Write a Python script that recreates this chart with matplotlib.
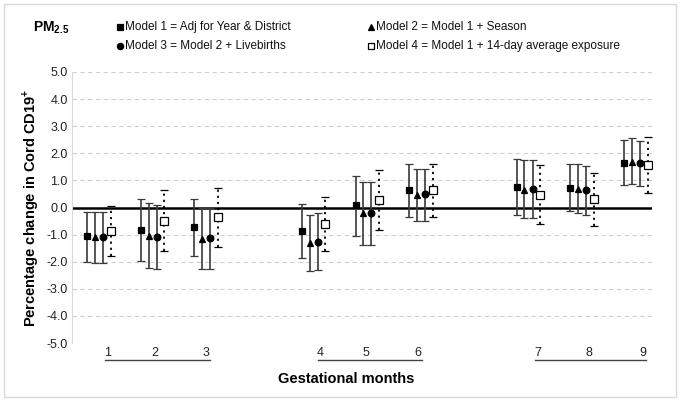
import matplotlib
matplotlib.use("Agg")
import matplotlib.pyplot as plt
from matplotlib.lines import Line2D
from matplotlib.patches import Rectangle
import matplotlib.transforms as mtransforms

plt.rcParams['font.family'] = ['Liberation Sans', 'DejaVu Sans']
plt.rcParams['mathtext.fontset'] = 'custom'
plt.rcParams['mathtext.rm'] = 'Liberation Sans'
plt.rcParams['mathtext.bf'] = 'Liberation Sans:bold'

# ---------------- data ----------------
months = ["1", "2", "3", "4", "5", "6", "7", "8", "9"]
month_slots = [1, 2, 3, 5, 6, 7, 9, 10, 11]

m1_est = [-1.05, -0.82, -0.73, -0.88, 0.10, 0.64, 0.76, 0.72, 1.66]
m1_lo = [-2.00, -1.99, -1.80, -1.87, -1.05, -0.34, -0.28, -0.14, 0.83]
m1_hi = [-0.15, 0.33, 0.33, 0.12, 1.17, 1.59, 1.80, 1.61, 2.50]

m2_est = [-1.10, -1.05, -1.15, -1.32, -0.22, 0.45, 0.64, 0.67, 1.68]
m2_lo = [-2.04, -2.22, -2.26, -2.34, -1.40, -0.49, -0.40, -0.19, 0.88]
m2_hi = [-0.15, 0.15, -0.03, -0.29, 0.95, 1.43, 1.74, 1.59, 2.56]

m3_est = [-1.10, -1.08, -1.14, -1.26, -0.22, 0.50, 0.70, 0.64, 1.63]
m3_lo = [-2.04, -2.27, -2.26, -2.32, -1.40, -0.49, -0.37, -0.26, 0.80]
m3_hi = [-0.18, 0.11, -0.02, -0.20, 0.95, 1.43, 1.77, 1.52, 2.47]

m4_est = [-0.86, -0.49, -0.34, -0.61, 0.27, 0.64, 0.47, 0.32, 1.56]
m4_lo = [-1.80, -1.59, -1.47, -1.62, -0.83, -0.34, -0.62, -0.67, 0.54]
m4_hi = [0.06, 0.64, 0.73, 0.39, 1.37, 1.59, 1.55, 1.27, 2.59]

legend_labels = ["Model 1 = Adj for Year & District",
                 "Model 2 = Model 1 + Season",
                 "Model 3 = Model 2 + Livebirths",
                 "Model 4 = Model 1 + 14-day average exposure"]

yticks = [-5, -4, -3, -2, -1, 0, 1, 2, 3, 4, 5]

# ---------------- figure ----------------
W, H = 685, 400
fig = plt.figure(figsize=(W / 100, H / 100), dpi=100)
ax = fig.add_axes([72 / W, 1 - 343 / H, (652 - 72) / W, (343 - 72) / H])
ax.set_xlim(0.5, 11.3)
ax.set_ylim(-5, 5)

err_col = "#3a3a3a"
series = [
    (m1_est, m1_lo, m1_hi, -0.22, 's', 'black', '-', 4.6),
    (m2_est, m2_lo, m2_hi, -0.075, '^', 'black', '-', 4.8),
    (m3_est, m3_lo, m3_hi, 0.075, 'o', 'black', '-', 4.8),
    (m4_est, m4_lo, m4_hi, 0.22, 's', 'white', ':', 5.4),
]
for est, lo, hi, off, mk, fc, ls, ms in series:
    xs = [s + off for s in month_slots]
    yerr = [[e - l for e, l in zip(est, lo)], [h - e for e, h in zip(est, hi)]]
    eb = ax.errorbar(xs, est, yerr=yerr, fmt=mk, mfc=fc, mec='black', mew=0.9,
                     ms=ms, ecolor=err_col if ls == '-' else 'black',
                     elinewidth=1.2, capsize=3.2, capthick=1.0, zorder=3)
    if ls != '-':
        eb[2][0].set_linestyle((0, (1.2, 2.2)))
        eb[2][0].set_linewidth(1.3)

# grid lines and zero line
for yv in yticks:
    if yv == 0:
        continue
    ax.axhline(yv, color="#d0d0d0", lw=0.8, ls=(0, (4, 3)), zorder=0)
ax.axhline(0, color='black', lw=1.8, zorder=2)

ax.set_yticks(yticks)
ax.set_yticklabels([f"{v:.1f}" for v in yticks], fontsize=9, color='#222222')
ax.tick_params(axis='y', length=0, pad=3)
ax.set_xticks([])
for s in ['top', 'right', 'bottom']:
    ax.spines[s].set_visible(False)
ax.spines['left'].set_color('#d9d9d9')
ax.spines['left'].set_linewidth(0.8)

ax.set_ylabel(r'Percentage change in Cord CD19$^{\mathbf{+}}$', fontsize=10.5,
              fontweight='bold', labelpad=4)

# month labels with underlines per trimester
trans = mtransforms.blended_transform_factory(ax.transData, fig.transFigure)
label_pos = [1.16, 2.05, 2.99, 5.12, 5.97, 6.94, 9.18, 10.13, 11.13]
for lab, xp in zip(months, label_pos):
    fig.text(xp, 1 - 353 / H, lab, transform=trans, ha='center', va='center',
             fontsize=9, color='#222222')
for a, b in [(1.11, 3.07), (5.08, 7.01), (9.12, 11.19)]:
    fig.add_artist(Line2D([a, b], [1 - 360 / H] * 2, transform=trans,
                          color='#444444', lw=1.0))

fig.text(346 / W, 1 - 379 / H, "Gestational months", ha='center', va='center',
         fontsize=10.5, fontweight='bold')

# title
fig.text(33 / W, 1 - 28 / H, r'PM$_{\mathbf{2.5}}$', ha='left', va='center',
         fontsize=10, fontweight='bold')

# legend (manual two-column layout)
leg_style = [('s', 'black'), ('^', 'black'), ('o', 'black'), ('s', 'white')]
leg_xy = [(120, 27), (371, 27), (120, 46), (371, 46)]
for (mk, fc), (px, py), lab in zip(leg_style, leg_xy, legend_labels):
    fig.add_artist(Line2D([px / W], [1 - py / H], transform=fig.transFigure,
                          marker=mk, mfc=fc, mec='black', mew=0.9, ms=4.5,
                          ls='none'))
    fig.text((px + 5) / W, 1 - py / H, lab, ha='left', va='center',
             fontsize=8.5, color='#111111')

# outer frame
fig.add_artist(Rectangle((4 / W, 3 / H), (676 - 4) / W, (396 - 3) / H,
                         transform=fig.transFigure, fill=False,
                         edgecolor='#d9d9d9', lw=1.0))

fig.savefig("out.png", dpi=100)
